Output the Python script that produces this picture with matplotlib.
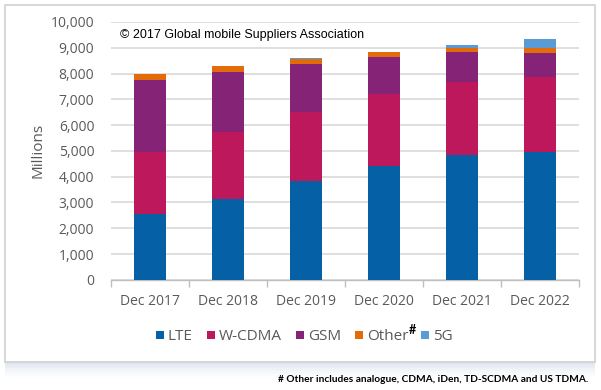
import matplotlib
matplotlib.use("Agg")
import matplotlib.pyplot as plt
import numpy as np
from matplotlib.patches import Rectangle

categories = ["Dec 2017", "Dec 2018", "Dec 2019", "Dec 2020", "Dec 2021", "Dec 2022"]
lte = [2550, 3150, 3825, 4400, 4840, 4945]
wcdma = [2395, 2600, 2680, 2805, 2830, 2935]
gsm = [2805, 2325, 1880, 1455, 1170, 935]
other = [234, 220, 183, 182, 156, 171]
fiveg = [0, 0, 25, 10, 115, 365]
yticks = [0, 1000, 2000, 3000, 4000, 5000, 6000, 7000, 8000, 9000, 10000]

series = [("LTE", lte, "#0560A6"),
          ("W-CDMA", wcdma, "#BE185D"),
          ("GSM", gsm, "#852477"),
          ("Other", other, "#E36C0A"),
          ("5G", fiveg, "#5B9BD5")]

W, H = 601, 390
fig = plt.figure(figsize=(W / 100, H / 100), dpi=100)
fig.patch.set_facecolor("white")

# soft shadow / frame
for i in range(12):
    a = 0.06 * (1 - i / 12)
    fig.patches.append(Rectangle((5 / W, (H - 362 - i * 1.5) / H), 590 / W, (357 + i * 1.5) / H,
                                 transform=fig.transFigure, facecolor="#9DB9DD", alpha=a,
                                 edgecolor="none", zorder=0))
fig.patches.append(Rectangle((5 / W, (H - 362) / H), 590 / W, 357 / H,
                             transform=fig.transFigure, facecolor="white",
                             edgecolor="#D0D0D0", linewidth=1.2, zorder=1))

ax = fig.add_axes([111 / W, 1 - 279.8 / H, (579 - 111) / W, (279.8 - 22) / H])
ax.set_facecolor("none")
ax.set_zorder(2)
x = np.arange(len(categories))
bottom = np.zeros(len(categories))
for name, vals, col in series:
    ax.bar(x, vals, width=0.4, bottom=bottom, color=col, label=name, zorder=3)
    bottom += np.array(vals)

ax.set_xlim(-0.5, len(categories) - 0.5)
ax.set_ylim(0, 10000)
ax.set_yticks(yticks)
ax.set_yticklabels([f"{v:,}" for v in yticks], fontfamily="Open Sans", fontsize=10, color="#595959")
ax.yaxis.grid(True, color="#D9D9D9", linewidth=1.2, zorder=0)
ax.set_axisbelow(True)
ax.tick_params(axis="y", length=0, pad=12)
ax.set_xticks(x)
ax.set_xticklabels(categories, fontfamily="Open Sans", fontsize=10, color="#595959")
ax.set_xticks(np.arange(-0.5, len(categories)), minor=True)
ax.tick_params(axis="x", which="major", length=0, pad=10)
ax.tick_params(axis="x", which="minor", length=5, color="#BFBFBF", width=1)
for s in ["top", "right", "left"]:
    ax.spines[s].set_visible(False)
ax.spines["bottom"].set_color("#BFBFBF")
ax.spines["bottom"].set_linewidth(1)
ax.set_ylabel("Millions", fontfamily="Open Sans", fontsize=11, color="#595959", labelpad=4)

fig.text(120 / W, 1 - 35 / H, "© 2017 Global mobile Suppliers Association",
         fontsize=9, fontfamily="Liberation Sans", color="black", va="center", ha="left", zorder=5)

# manual legend laid out sequentially (pixel units)
fig.canvas.draw()
r = fig.canvas.get_renderer()

def width_of(s, **kw):
    t = fig.text(0, 0, s, **kw)
    w = t.get_window_extent(r).width
    t.remove()
    return w

lab_kw = dict(fontfamily="Open Sans", fontsize=11, color="#595959")
hash_kw = dict(fontfamily="Lato", fontsize=9, fontweight="bold", color="black")
sq, gap_st, gap_next = 8, 4, 14
items = []
total = 0
for i, (name, _, col) in enumerate(series):
    tw = width_of(name, **lab_kw)
    hw = width_of("#", **hash_kw) if name == "Other" else 0
    items.append((name, col, tw, hw))
    total += sq + gap_st + tw + hw + (gap_next if i < len(series) - 1 else 0)
    if name == "Other":
        total -= gap_next - 5
cx = 304
xp = cx - total / 2
yc = H - 335
for i, (name, col, tw, hw) in enumerate(items):
    fig.patches.append(Rectangle((xp / W, (yc - sq / 2) / H), sq / W, sq / H,
                                 transform=fig.transFigure, facecolor=col, edgecolor="none", zorder=3))
    xp += sq + gap_st
    fig.text(xp / W, yc / H, name, ha="left", va="center_baseline", **lab_kw)
    xp += tw
    if name == "Other":
        fig.text((xp + 0.5) / W, (yc + 5) / H, "#", ha="left", va="center", **hash_kw)
        xp += hw + 5
    else:
        xp += gap_next

fig.text(588 / W, 1 - 380 / H, "# Other includes analogue, CDMA, iDen, TD-SCDMA and US TDMA.",
         ha="right", va="center", fontsize=7.3, fontweight="bold", fontfamily="Lato", color="black")

fig.savefig("out.png", dpi=100)
